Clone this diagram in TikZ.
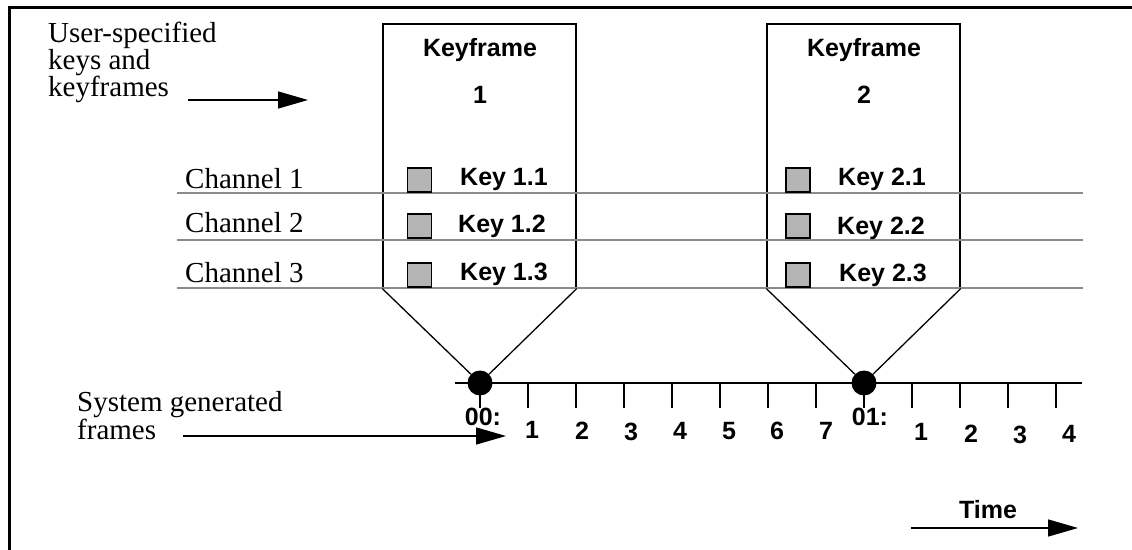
\documentclass[tikz,border=0pt]{standalone}
\usepackage{fontspec}
\setmainfont{Liberation Serif}
\newfontfamily\boldsans{Liberation Sans}
\usetikzlibrary{arrows.meta}

\definecolor{channelgray}{HTML}{8C8C8C}
\definecolor{keyfill}{HTML}{B4B4B4}

\begin{document}
\begin{tikzpicture}[x=1bp,y=-1bp,
  serif/.style={font=\fontsize{29bp}{27bp}\selectfont, inner sep=0pt, align=left},
  boldlbl/.style={font=\boldsans\bfseries\fontsize{25bp}{30bp}\selectfont, inner sep=0pt, anchor=base},
  kfbox/.style={draw, line width=1.3bp, minimum width=193bp, minimum height=264bp, inner sep=0pt},
  keysq/.style={draw, line width=1.1bp, fill=keyfill, minimum size=24bp, inner sep=0pt},
  chline/.style={draw=channelgray, line width=2bp},
  bigarrow/.style={line width=1.5bp, -{Triangle[length=30bp,width=17bp]}},
  thin/.style={line width=1.3bp},
  frameline/.style={line width=3bp},
  marker/.style={circle, fill, minimum size=25bp, inner sep=0pt}
]
\useasboundingbox (0,0) rectangle (1132,550);

% outer frame (left and top edges)
\coordinate (fbl) at (9,550);
\coordinate (ftl) at (9,8);
\coordinate (ftr) at (1132,8);
\draw[frameline] (fbl) -- (ftl) -- (ftr);

% keyframe boxes
\node[kfbox] (box1) at (479.5,156) {};
\node[kfbox] (box2) at (863.5,156) {};
\node[boldlbl] (kf1) at (480,57) {Keyframe};
\node[boldlbl] (kf1n) at (480,104) {1};
\node[boldlbl] (kf2) at (864,57) {Keyframe};
\node[boldlbl] (kf2n) at (864,104) {2};

% channel lines
\foreach \i/\y in {1/193,2/240,3/288}{
  \coordinate (ch\i w) at (177,\y);
  \coordinate (ch\i e) at (1083,\y);
  \draw[chline] (ch\i w) -- (ch\i e);
}
\node[serif, anchor=base west] (chl1) at (185,189) {Channel 1};
\node[serif, anchor=base west] (chl2) at (185,233) {Channel 2};
\node[serif, anchor=base west] (chl3) at (185,283) {Channel 3};

% keys
\node[keysq] (sq11) at (419.5,180) {};
\node[keysq] (sq12) at (419.5,226) {};
\node[keysq] (sq13) at (419.5,275) {};
\node[keysq] (sq21) at (798,180) {};
\node[keysq] (sq22) at (798,226) {};
\node[keysq] (sq23) at (798,275) {};
\node[boldlbl] (k11) at (504,186) {Key 1.1};
\node[boldlbl] (k12) at (502,233) {Key 1.2};
\node[boldlbl] (k13) at (504,281) {Key 1.3};
\node[boldlbl] (k21) at (882,186) {Key 2.1};
\node[boldlbl] (k22) at (881,235) {Key 2.2};
\node[boldlbl] (k23) at (883,282) {Key 2.3};

% time line with ticks
\coordinate (tlw) at (455,383);
\coordinate (tle) at (1082,383);
\draw[thin] (tlw) -- (tle);
\foreach \k in {0,...,12}{
  \coordinate (t\k) at ({480+48*\k},383);
  \draw[thin] (t\k) -- ++(0,25);
}

% keyframe markers on the time line
\node[marker] (dot1) at (t0) {};
\node[marker] (dot2) at (t8) {};
\draw[thin] (box1.south west) -- (dot1);
\draw[thin] (box1.south east) -- (dot1);
\draw[thin] (box2.south west) -- (dot2);
\draw[thin] (box2.south east) -- (dot2);

% frame numbers
\node[boldlbl] (f00) at (483,425) {00:};
\node[boldlbl] (f01) at (870,425) {01:};
\foreach \n/\x/\y in {1/532/438,2/582/439,3/631/440,4/680/439,5/729/439,6/777/439,7/826/439}{
  \node[boldlbl] (fa\n) at (\x,\y) {\n};
}
\foreach \n/\x/\y in {1/921/440,2/971/442,3/1020/443,4/1069/442}{
  \node[boldlbl] (fb\n) at (\x,\y) {\n};
}

% left-hand annotations (base anchor sits on the last line)
\node[serif, anchor=base west] (usk) at (48,97) {User-specified\\keys and\\keyframes};
\coordinate (uska) at (188,100);
\coordinate (uskb) at (308,100);
\draw[bigarrow] (uska) -- (uskb);

\node[serif, anchor=base west, font=\fontsize{29bp}{26bp}\selectfont] (sgf) at (77,439) {System generated\\frames};
\coordinate (sgfa) at (183,436);
\coordinate (sgfb) at (506,436);
\draw[bigarrow] (sgfa) -- (sgfb);

% time direction
\node[boldlbl] (time) at (988,518) {Time};
\coordinate (tima) at (911,528);
\coordinate (timb) at (1078,528);
\draw[bigarrow] (tima) -- (timb);
\end{tikzpicture}
\end{document}
